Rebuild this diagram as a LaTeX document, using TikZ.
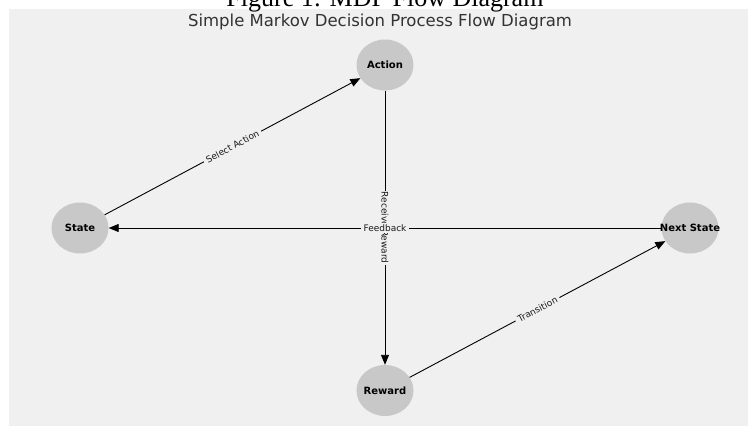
\documentclass[tikz,border=0pt]{standalone}
\usepackage{fontspec}
\setmainfont{DejaVu Sans}
\newfontfamily\capserif{Liberation Serif}
\usetikzlibrary{shapes.geometric,arrows.meta}
\definecolor{panelbg}{HTML}{F0F0F0}
\definecolor{nodefill}{HTML}{C8C8C8}
\definecolor{labeltext}{HTML}{1A1A1A}
\begin{document}
\begin{tikzpicture}[x=1pt,y=-1pt,
  mdpnode/.style={ellipse, fill=nodefill, draw=none, minimum width=57pt, minimum height=51pt, inner sep=0pt},
  nodetext/.style={font=\fontsize{10}{12}\selectfont\bfseries, text=black},
  flow/.style={draw=black, line width=0.9pt, -{Triangle[length=10pt,width=8pt]}},
  edgelabel/.style={font=\fontsize{9}{11}\selectfont, text=labeltext, fill=panelbg, inner xsep=3pt, inner ysep=1.5pt}
]
\useasboundingbox (0,0) rectangle (748,426);
\fill[panelbg] (9,9) rectangle (748,426);
\node[font=\capserif\fontsize{26}{30}\selectfont, anchor=base] (figtitle) at (385,6) {Figure 1: MDP Flow Diagram};
\node[font=\fontsize{16.5}{19}\selectfont, text=black!80, anchor=base] (subtitle) at (380,26) {Simple Markov Decision Process Flow Diagram};

\node[mdpnode] (action) at (385,65) {};
\node[mdpnode] (state) at (80,228) {};
\node[mdpnode] (next) at (690,228) {};
\node[mdpnode] (reward) at (385,390.5) {};

\draw[flow] (state) -- (action) node[midway, sloped, edgelabel] {Select Action};
\draw[flow] (reward) -- (next) node[midway, sloped, edgelabel] {Transition};
\draw[flow] (action) -- (reward) node[midway, rotate=-90, edgelabel, inner xsep=1pt] {Receive Reward};
\draw[flow] (next) -- (state) node[midway, edgelabel] {Feedback};

\node[nodetext] (actiont) at (action.center) {Action};
\node[nodetext] (statet) at (state.center) {State};
\node[nodetext] (nextt) at (next.center) {Next State};
\node[nodetext] (rewardt) at (reward.center) {Reward};
\end{tikzpicture}
\end{document}
